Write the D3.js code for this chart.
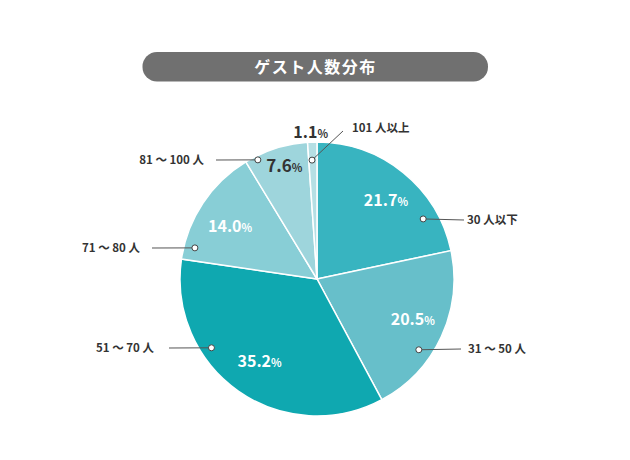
<!DOCTYPE html>
<html><head><meta charset="utf-8">
<script src="https://cdn.jsdelivr.net/npm/d3@7"></script>
<style>body{margin:0;background:#fff;} svg{display:block;font-family:"Noto Sans CJK JP","Noto Sans",sans-serif;}</style>
</head><body>
<svg id="c" width="630" height="460"></svg>
<script>
const title = "ゲスト人数分布";
const categories = ["30人以下","31〜50人","51〜70人","71〜80人","81〜100人","101人以上"];
const labels = ["30 人以下","31 〜 50 人","51 〜 70 人","71 〜 80 人","81 〜 100 人","101 人以上"];
const values = [21.7, 20.5, 35.2, 14.0, 7.6, 1.1];
const colors = ["#38b4c0","#67bfca","#0fa8b0","#88ced6","#9ed5dc","#b5dfe4"];

const svg = d3.select("#c");
const cx = 317, cy = 279, R = 137;

// title pill
svg.append("rect").attr("x",142.5).attr("y",52).attr("width",345.5).attr("height",29.5).attr("rx",14.5).attr("fill","#707070");
svg.append("text").attr("x",315.5).attr("y",72.5).attr("text-anchor","middle").attr("fill","#fff")
  .attr("font-size",16).attr("font-weight","bold").attr("letter-spacing",1.5).text(title);

const pie = d3.pie().sort(null).value(d=>d)(values);
const arc = d3.arc().innerRadius(0).outerRadius(R);
const g = svg.append("g").attr("transform",`translate(${cx},${cy})`);
g.selectAll("path").data(pie).join("path").attr("d",arc)
  .attr("fill",(d,i)=>colors[i]).attr("stroke","#fff").attr("stroke-width",1.5);

// annotation layout (style/positions)
const pctR = [105,104,100,102,118,147];
const pctAngOff = [2,-2,0,-2,1.5,-0.5]; // degrees
const pctSize = [16,16,16,16,17,16];
const pctColor = ["#fff","#fff","#fff","#fff","#333","#333"];
const dotAng = [60.5,124.8,236.9,284.3,333.6,357.6];
const dotR = [122,124,126,126,133,119];
const lineEnd = [[464,220],[461,349],[169,348],[152,248],[216,160],[343,131]];
const labelPos = [[467,224,"start"],[468,353,"start"],[154,352,"end"],[140,252,"end"],[204,164,"end"],[352,132,"start"]];

const polar = (a,r)=>{const t=a*Math.PI/180; return [r*Math.sin(t), -r*Math.cos(t)];};

pie.forEach((d,i)=>{
  const mid = (d.startAngle+d.endAngle)/2*180/Math.PI + pctAngOff[i];
  const [x,y] = polar(mid,pctR[i]);
  const t = g.append("text").attr("x",x).attr("y",y+6).attr("text-anchor","middle")
    .attr("fill",pctColor[i]).attr("font-weight","bold");
  t.append("tspan").attr("font-size",pctSize[i]).text(values[i].toFixed(1));
  t.append("tspan").attr("font-size",11).text("%");

  const [dx,dy] = polar(dotAng[i],dotR[i]);
  const px = cx+dx, py = cy+dy;
  svg.append("line").attr("x1",px).attr("y1",py).attr("x2",lineEnd[i][0]).attr("y2",lineEnd[i][1])
    .attr("stroke","#555").attr("stroke-width",1);
  svg.append("circle").attr("cx",px).attr("cy",py).attr("r",3).attr("fill","#fff").attr("stroke","#444").attr("stroke-width",1);
  svg.append("text").attr("x",labelPos[i][0]).attr("y",labelPos[i][1]).attr("text-anchor",labelPos[i][2])
    .attr("fill","#333").attr("font-size",11.5).attr("font-weight","bold").text(labels[i]);
});
</script>
</body></html>
